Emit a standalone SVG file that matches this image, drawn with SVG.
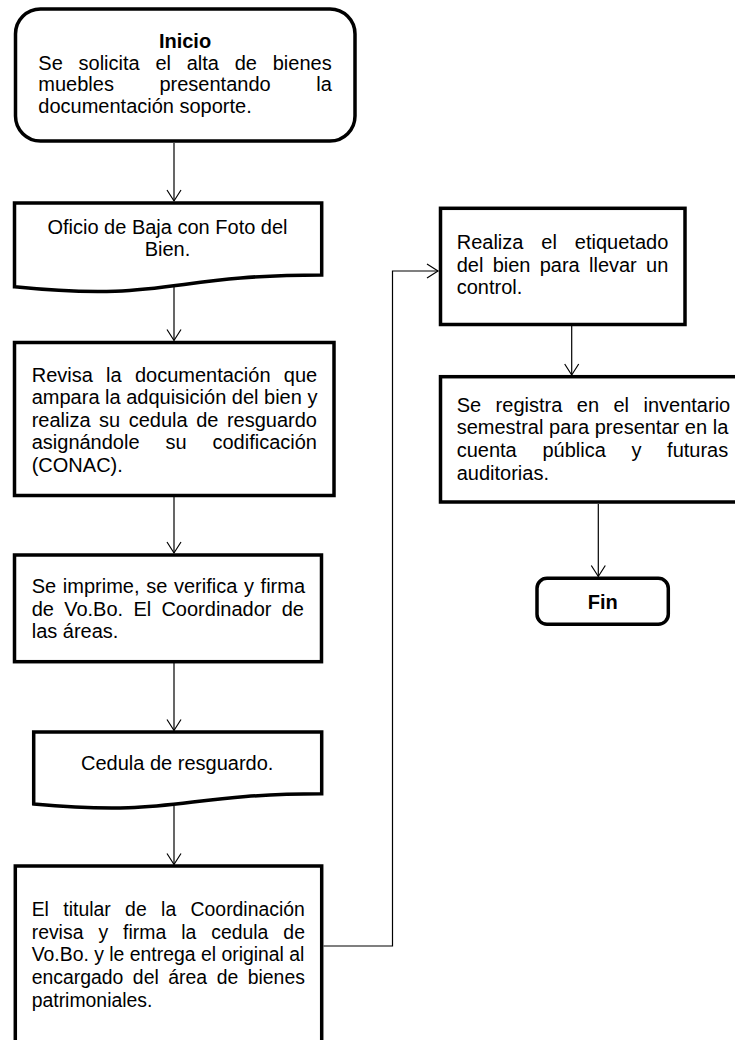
<svg xmlns="http://www.w3.org/2000/svg" width="735" height="1040" viewBox="0 0 735 1040">
<style>
.box{fill:#fff;stroke:#000;stroke-width:3.5;}
.t{font-family:"Liberation Sans",Arial,sans-serif;font-size:20px;fill:#000;}
.s{font-size:19.4px;}
.b{font-weight:bold;}
.c{text-anchor:middle;}
.ln{fill:none;stroke:#000;stroke-width:1.2;}
</style>
<defs>
<marker id="ah" markerUnits="userSpaceOnUse" markerWidth="16" markerHeight="18" refX="12" refY="8" orient="auto" viewBox="0 0 16 16">
<path d="M1,1 L12,8 L1,15" fill="none" stroke="#000" stroke-width="1.2"/>
</marker>
</defs>
<rect width="735" height="1040" fill="#fff"/>

<g id="connectors">
<line class="ln" x1="174" y1="143" x2="174" y2="201" marker-end="url(#ah)"/>
<line class="ln" x1="174" y1="284" x2="174" y2="340.5" marker-end="url(#ah)"/>
<line class="ln" x1="174" y1="497" x2="174" y2="553" marker-end="url(#ah)"/>
<line class="ln" x1="174" y1="663" x2="174" y2="730.5" marker-end="url(#ah)"/>
<line class="ln" x1="174" y1="806" x2="174" y2="864.5" marker-end="url(#ah)"/>
<polyline class="ln" points="323.5,946 392.5,946 392.5,271 438,271" marker-end="url(#ah)"/>
<line class="ln" x1="571.7" y1="326" x2="571.7" y2="375" marker-end="url(#ah)"/>
<line class="ln" x1="598.3" y1="504" x2="598.3" y2="576.5" marker-end="url(#ah)"/>
</g>

<g id="n-inicio">
<rect class="box" x="15.5" y="9" width="339.5" height="132" rx="25" ry="25"/>
<text class="t b c" x="185" y="47.5">Inicio</text>
<text class="t" x="38.3" y="70" word-spacing="10.2">Se solicita el alta de bienes</text>
<text class="t" x="38.3" y="91" word-spacing="40">muebles presentando la</text>
<text class="t" x="38.3" y="112.5">documentación soporte.</text>
</g>

<g id="n-oficio">
<path class="box" d="M14.5,203 H321.7 V274.9 C168,274.9 168,302.3 14.5,286.8 Z"/>
<text class="t c" x="167.5" y="234.3">Oficio de Baja con Foto del</text>
<text class="t c" x="167.5" y="256">Bien.</text>
</g>

<g id="n-revisa">
<rect class="box" x="14.5" y="342.5" width="319.5" height="153"/>
<text class="t" x="31.7" y="381.7" word-spacing="7.7">Revisa la documentación que</text>
<text class="t" x="31.7" y="404.2">ampara la adquisición del bien y</text>
<text class="t" x="31.7" y="426.7" word-spacing="2.95">realiza su cedula de resguardo</text>
<text class="t" x="31.7" y="449.2" word-spacing="20.35">asignándole su codificación</text>
<text class="t" x="31.7" y="471.7">(CONAC).</text>
</g>

<g id="n-imprime">
<rect class="box" x="14.5" y="555" width="307" height="106.7"/>
<text class="t" x="31.7" y="593.3" word-spacing="1.1">Se imprime, se verifica y firma</text>
<text class="t" x="31.7" y="615.8" word-spacing="4.7">de Vo.Bo. El Coordinador de</text>
<text class="t" x="31.7" y="638.3">las áreas.</text>
</g>

<g id="n-cedula">
<path class="box" d="M33.7,732 H321.7 V793.8 C177.7,793.8 177.7,817.3 33.7,804 Z"/>
<text class="t c" x="177.2" y="770">Cedula de resguardo.</text>
</g>

<g id="n-titular">
<rect class="box" x="15.3" y="866" width="306.4" height="200"/>
<text class="t s" x="31.7" y="916" word-spacing="9">El titular de la Coordinación</text>
<text class="t s" x="31.7" y="938.5" word-spacing="9.6">revisa y firma la cedula de</text>
<text class="t s" x="31.7" y="961.2">Vo.Bo. y le entrega el original al</text>
<text class="t s" x="31.7" y="984" word-spacing="4.15">encargado del área de bienes</text>
<text class="t s" x="31.7" y="1006.5">patrimoniales.</text>
</g>

<g id="n-realiza">
<rect class="box" x="440.5" y="208.3" width="244.5" height="116.2"/>
<text class="t" x="456.7" y="249.3" word-spacing="12.4">Realiza el etiquetado</text>
<text class="t" x="456.7" y="271.5" word-spacing="3.7">del bien para llevar un</text>
<text class="t" x="456.7" y="293.5">control.</text>
</g>

<g id="n-registra">
<rect class="box" x="440.5" y="376.7" width="320" height="125.3"/>
<text class="t" x="456.7" y="411.7" word-spacing="8.9">Se registra en el inventario</text>
<text class="t" x="456.7" y="434.4" word-spacing="0.1">semestral para presentar en la</text>
<text class="t" x="456.7" y="457.1" word-spacing="20.1">cuenta pública y futuras</text>
<text class="t" x="456.7" y="479.8">auditorias.</text>
</g>

<g id="n-fin">
<rect class="box" x="537" y="578.3" width="131.3" height="46" rx="10" ry="10"/>
<text class="t b c" x="602.7" y="609">Fin</text>
</g>
</svg>
